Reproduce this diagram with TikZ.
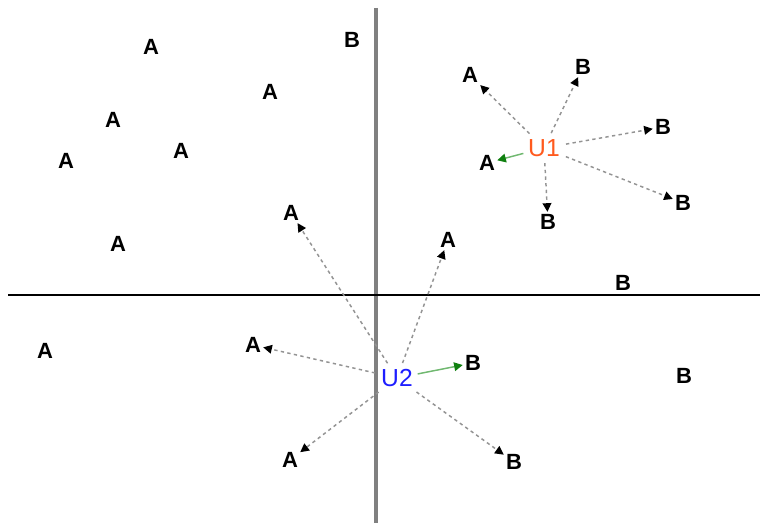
\documentclass[tikz,border=0pt]{standalone}
\usepackage{fontspec}
\setmainfont{Liberation Sans}
\usetikzlibrary{arrows.meta}
\definecolor{uorange}{HTML}{FF5A1E}
\definecolor{ublue}{HTML}{1E1EFF}
\definecolor{dgreen}{HTML}{108010}
\definecolor{lgreen}{HTML}{70B870}
\tikzset{
  lbl/.style={font=\fontsize{16.5}{16.5}\selectfont\bfseries, inner sep=1.5pt, text height=11.8pt, text depth=0pt},
  ulbl/.style={font=\fontsize{18.5}{18.5}\selectfont, inner sep=2.5pt, text height=13.3pt, text depth=0pt},
  arr/.style={draw=gray!85, line width=1.1pt, dash pattern=on 2.5pt off 2.5pt, -{Triangle[length=6.5pt,width=6.5pt,color=black]}, shorten <=2pt},
  garr/.style={draw=lgreen, line width=1.1pt, -{Triangle[length=6.5pt,width=6.5pt,color=dgreen]}, shorten <=1pt},
}
\begin{document}
\begin{tikzpicture}[x=0.75pt,y=-0.75pt]
\useasboundingbox (0,0) rectangle (760,523);
% axes
\draw[gray, line width=3.6pt] (376,8) -- (376,523);
\draw[black, line width=2.2pt] (8,295) -- (760,295);
% isolated labels
\node[lbl] (l1) at (151,47) {A};
\node[lbl] (l2) at (270,92) {A};
\node[lbl] (l3) at (113,120) {A};
\node[lbl] (l4) at (181,151) {A};
\node[lbl] (l5) at (66,161) {A};
\node[lbl] (l6) at (118,244) {A};
\node[lbl] (l7) at (45,351) {A};
\node[lbl] (l8) at (352,40) {B};
\node[lbl] (l9) at (623,283) {B};
\node[lbl] (l10) at (684,376) {B};
% U1
\node[ulbl, text=uorange] (u1) at (544,148) {U1};
\node[lbl] (p1) at (470,75) {A};
\node[lbl] (p2) at (583,67) {B};
\node[lbl] (p3) at (663,127) {B};
\node[lbl] (p4) at (683,203) {B};
\node[lbl] (p5) at (548,222) {B};
\node[lbl] (p6) at (487,163) {A};
\draw[arr] (u1) -- (p1);
\draw[arr] (u1) -- (p2);
\draw[arr] (u1) -- (p3);
\draw[arr] (u1) -- (p4);
\draw[arr] (u1) -- (p5);
\draw[garr] (u1) -- (p6);
% U2
\node[ulbl, text=ublue] (u2) at (397,378) {U2};
\node[lbl] (q1) at (291,213) {A};
\node[lbl] (q2) at (448,240) {A};
\node[lbl] (q3) at (253,345) {A};
\node[lbl] (q4) at (473,363) {B};
\node[lbl] (q5) at (290,460) {A};
\node[lbl] (q6) at (514,462) {B};
\draw[arr] (u2) -- (q1);
\draw[arr] (u2) -- (q2);
\draw[arr] (u2) -- (q3);
\draw[garr] (u2) -- (q4);
\draw[arr] (u2) -- (q5);
\draw[arr] (u2) -- (q6);
\end{tikzpicture}
\end{document}
